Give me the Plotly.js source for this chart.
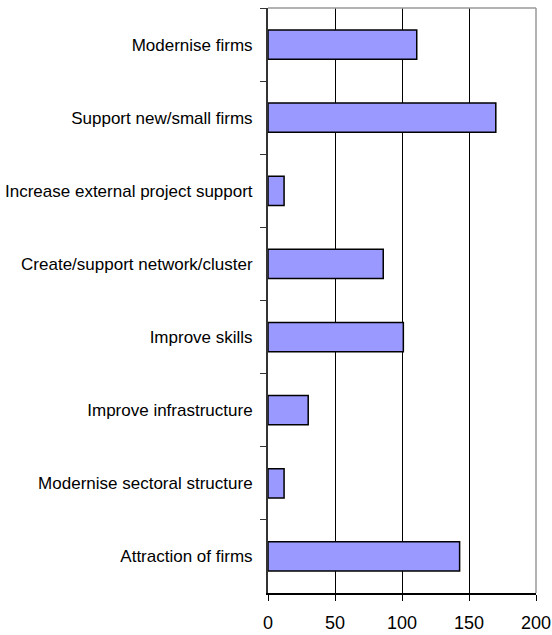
<!DOCTYPE html>
<html>
<head>
<meta charset="utf-8">
<script src="https://cdn.plot.ly/plotly-3.0.1.min.js"></script>
<style>html,body{margin:0;padding:0;background:#fff;}#chart{width:552px;height:635px;}</style>
</head>
<body>
<div id="chart"></div>
<script>
var categories = [
  "Modernise firms",
  "Support new/small firms",
  "Increase external project support",
  "Create/support network/cluster",
  "Improve skills",
  "Improve infrastructure",
  "Modernise sectoral structure",
  "Attraction of firms"
];
var values = [111, 170, 12, 86, 101, 30, 12, 143];
var xTickValues = [0, 50, 100, 150, 200];
var xTickLabels = ["0", "50", "100", "150", "200"];

var trace = {
  type: "bar",
  orientation: "h",
  y: categories,
  x: values,
  marker: {color: "#9999ff", line: {color: "#000000", width: 1.5}},
  hoverinfo: "x+y"
};

var layout = {
  width: 552,
  height: 635,
  margin: {l: 268, r: 16, t: 8, b: 42},
  paper_bgcolor: "#ffffff",
  plot_bgcolor: "#ffffff",
  showlegend: false,
  bargap: 0.6,
  font: {family: "Liberation Sans, Arial, sans-serif", size: 17, color: "#000"},
  xaxis: {
    range: [0, 200],
    tickvals: xTickValues,
    ticktext: xTickLabels,
    showgrid: true,
    gridcolor: "#000000",
    gridwidth: 1,
    zeroline: false,
    showline: true,
    linecolor: "#000000",
    linewidth: 1.5,
    ticks: "outside",
    ticklen: 6,
    tickcolor: "#000000",
    ticklabelstandoff: 7,
    tickfont: {size: 18, color: "#000"},
    fixedrange: true
  },
  yaxis: {
    type: "category",
    autorange: "reversed",
    tickson: "boundaries",
    ticks: "outside",
    ticklen: 6,
    tickcolor: "#333333",
    showline: true,
    linecolor: "#333333",
    linewidth: 2,
    showgrid: false,
    zeroline: false,
    ticklabelstandoff: 10,
    tickfont: {size: 17, color: "#000"},
    fixedrange: true
  },
  shapes: [
    {type: "line", xref: "paper", yref: "paper", x0: 0, x1: 1, y0: 1, y1: 1, line: {color: "#999999", width: 1.5}, layer: "above"},
    {type: "line", xref: "paper", yref: "paper", x0: 1, x1: 1, y0: 0, y1: 1, line: {color: "#999999", width: 1.5}, layer: "above"}
  ]
};

Plotly.newPlot("chart", [trace], layout, {displayModeBar: false, staticPlot: true});
</script>
</body>
</html>
